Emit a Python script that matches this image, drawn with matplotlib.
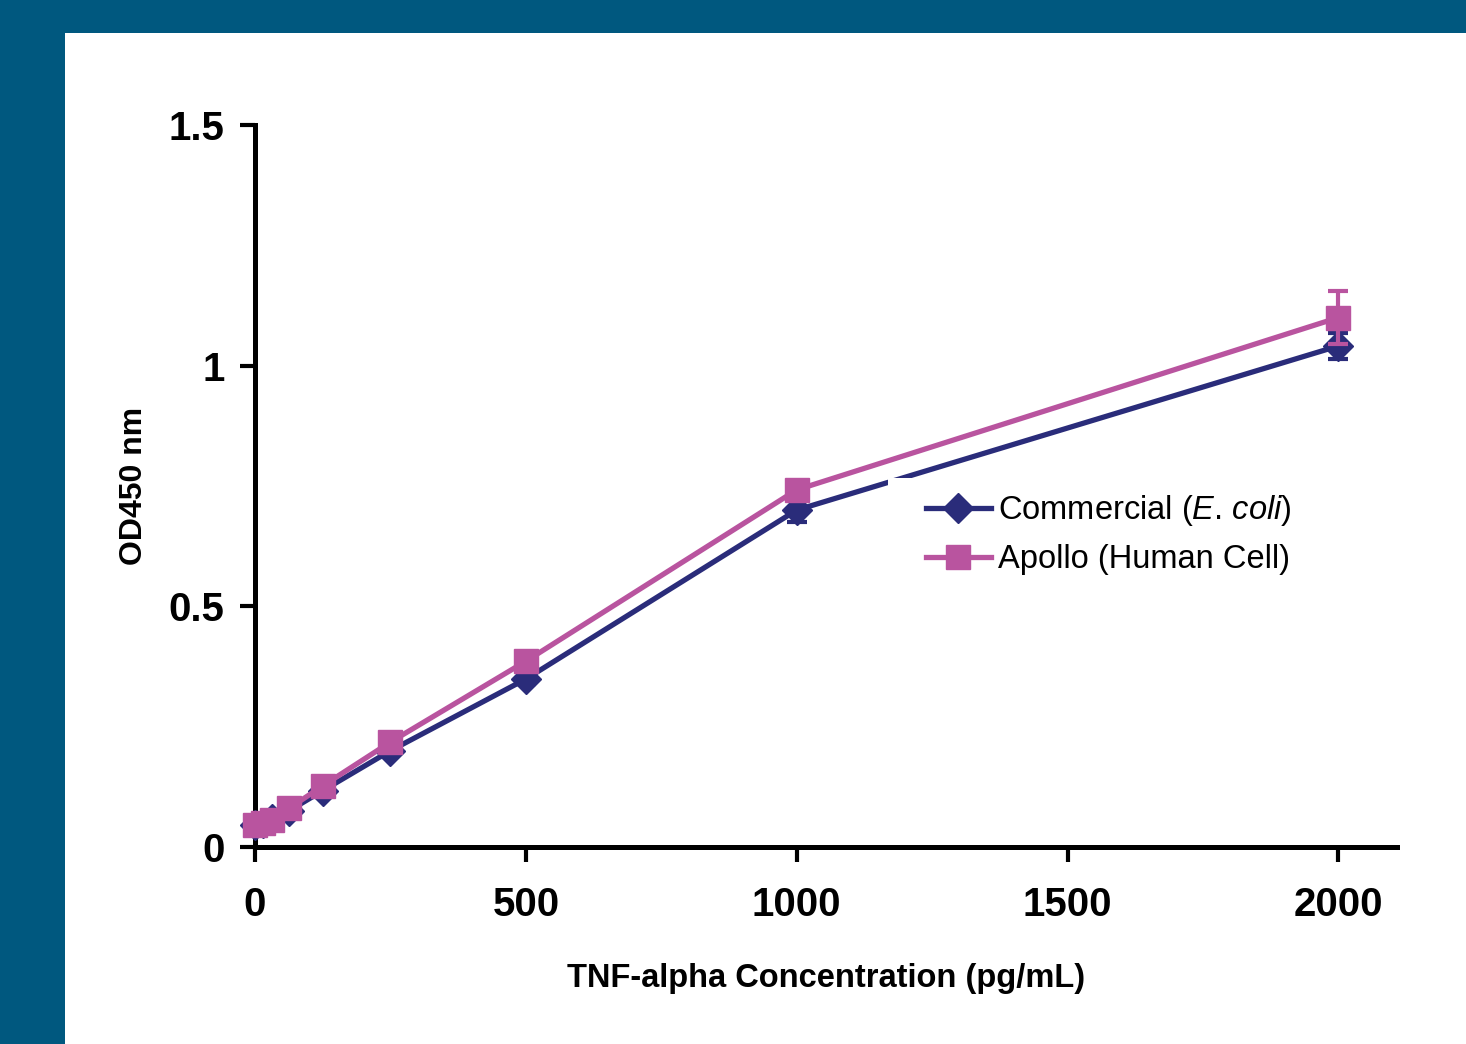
import matplotlib.pyplot as plt
from matplotlib.patches import Rectangle

plt.rcParams['font.family'] = ['Liberation Sans', 'DejaVu Sans']
plt.rcParams['mathtext.fontset'] = 'custom'
plt.rcParams['mathtext.rm'] = 'Liberation Sans'
plt.rcParams['mathtext.it'] = 'Liberation Sans:italic'

# concentrations (pg/mL)
conc = [0, 15.6, 31.25, 62.5, 125, 250, 500, 1000, 2000]

# OD450 readings
commercial = [0.045, 0.050, 0.058, 0.075, 0.117, 0.200, 0.349, 0.700, 1.041]
commercial_err = [0.003, 0.003, 0.003, 0.004, 0.005, 0.006, 0.010, 0.025, 0.027]
apollo = [0.046, 0.050, 0.056, 0.080, 0.127, 0.218, 0.386, 0.742, 1.100]
apollo_err = [0.003, 0.003, 0.003, 0.004, 0.005, 0.006, 0.008, 0.010, 0.055]

x_ticks = [0, 500, 1000, 1500, 2000]
y_ticks = [0, 0.5, 1, 1.5]
y_tick_labels = ['0', '0.5', '1', '1.5']

navy = '#2a2c7a'
magenta = '#b9549f'

fig = plt.figure(figsize=(14.66, 10.44), dpi=100, facecolor='#00587f')
# white panel over the blue frame
fig.patches.append(Rectangle((65 / 1466, 0), 1, (1044 - 33) / 1044,
                             transform=fig.transFigure, facecolor='white',
                             edgecolor='none', zorder=-10))

ax = fig.add_axes([255 / 1466, (1044 - 847) / 1044, (1397 - 255) / 1466, 722 / 1044])
ax.set_facecolor('none')

c1 = ax.errorbar(conc, commercial, yerr=commercial_err, color=navy, marker='D',
                 markersize=15, lw=3.8, capsize=7, capthick=3, elinewidth=3,
                 clip_on=False, zorder=3)
c2 = ax.errorbar(conc, apollo, yerr=apollo_err, color=magenta, marker='s',
                 markersize=17.5, lw=3.8, capsize=7, capthick=3, elinewidth=3,
                 clip_on=False, zorder=4)

ax.set_xlim(0, 2108)
ax.set_ylim(0, 1.5)
ax.set_xticks(x_ticks)
ax.set_yticks(y_ticks, y_tick_labels)

for s in ['top', 'right']:
    ax.spines[s].set_visible(False)
for s in ['left', 'bottom']:
    ax.spines[s].set_linewidth(3.6)

ax.tick_params(axis='both', direction='out', length=11, width=3,
               labelsize=29)
ax.tick_params(axis='y', pad=11)
ax.tick_params(axis='x', pad=17)
for lab in ax.get_xticklabels() + ax.get_yticklabels():
    lab.set_fontweight('bold')

ax.set_xlabel('TNF-alpha Concentration (pg/mL)', fontsize=23.5, fontweight='bold')
ax.set_ylabel('OD450 nm', fontsize=23, fontweight='bold')
ax.xaxis.set_label_coords(0.5, -0.16)
ax.yaxis.set_label_coords(-0.093, 0.5)

# white legend box hides a bit of the line behind it
ax.add_patch(Rectangle((0.554, 0.363), 0.36, 0.148, transform=ax.transAxes,
                       facecolor='white', edgecolor='none', zorder=5))

# legend without the error bars
leg = ax.legend([c1[0], c2[0]],
                ['Commercial ($\\it{E}$. $\\it{coli}$)', 'Apollo (Human Cell)'],
                loc='upper left', bbox_to_anchor=(0.576, 0.508), fontsize=23.5,
                frameon=False, handlelength=2.0, handletextpad=0.2,
                labelspacing=0.48, borderaxespad=0, borderpad=0.4)
leg.set_zorder(10)

fig.savefig('out.png', dpi=100, facecolor=fig.get_facecolor())
